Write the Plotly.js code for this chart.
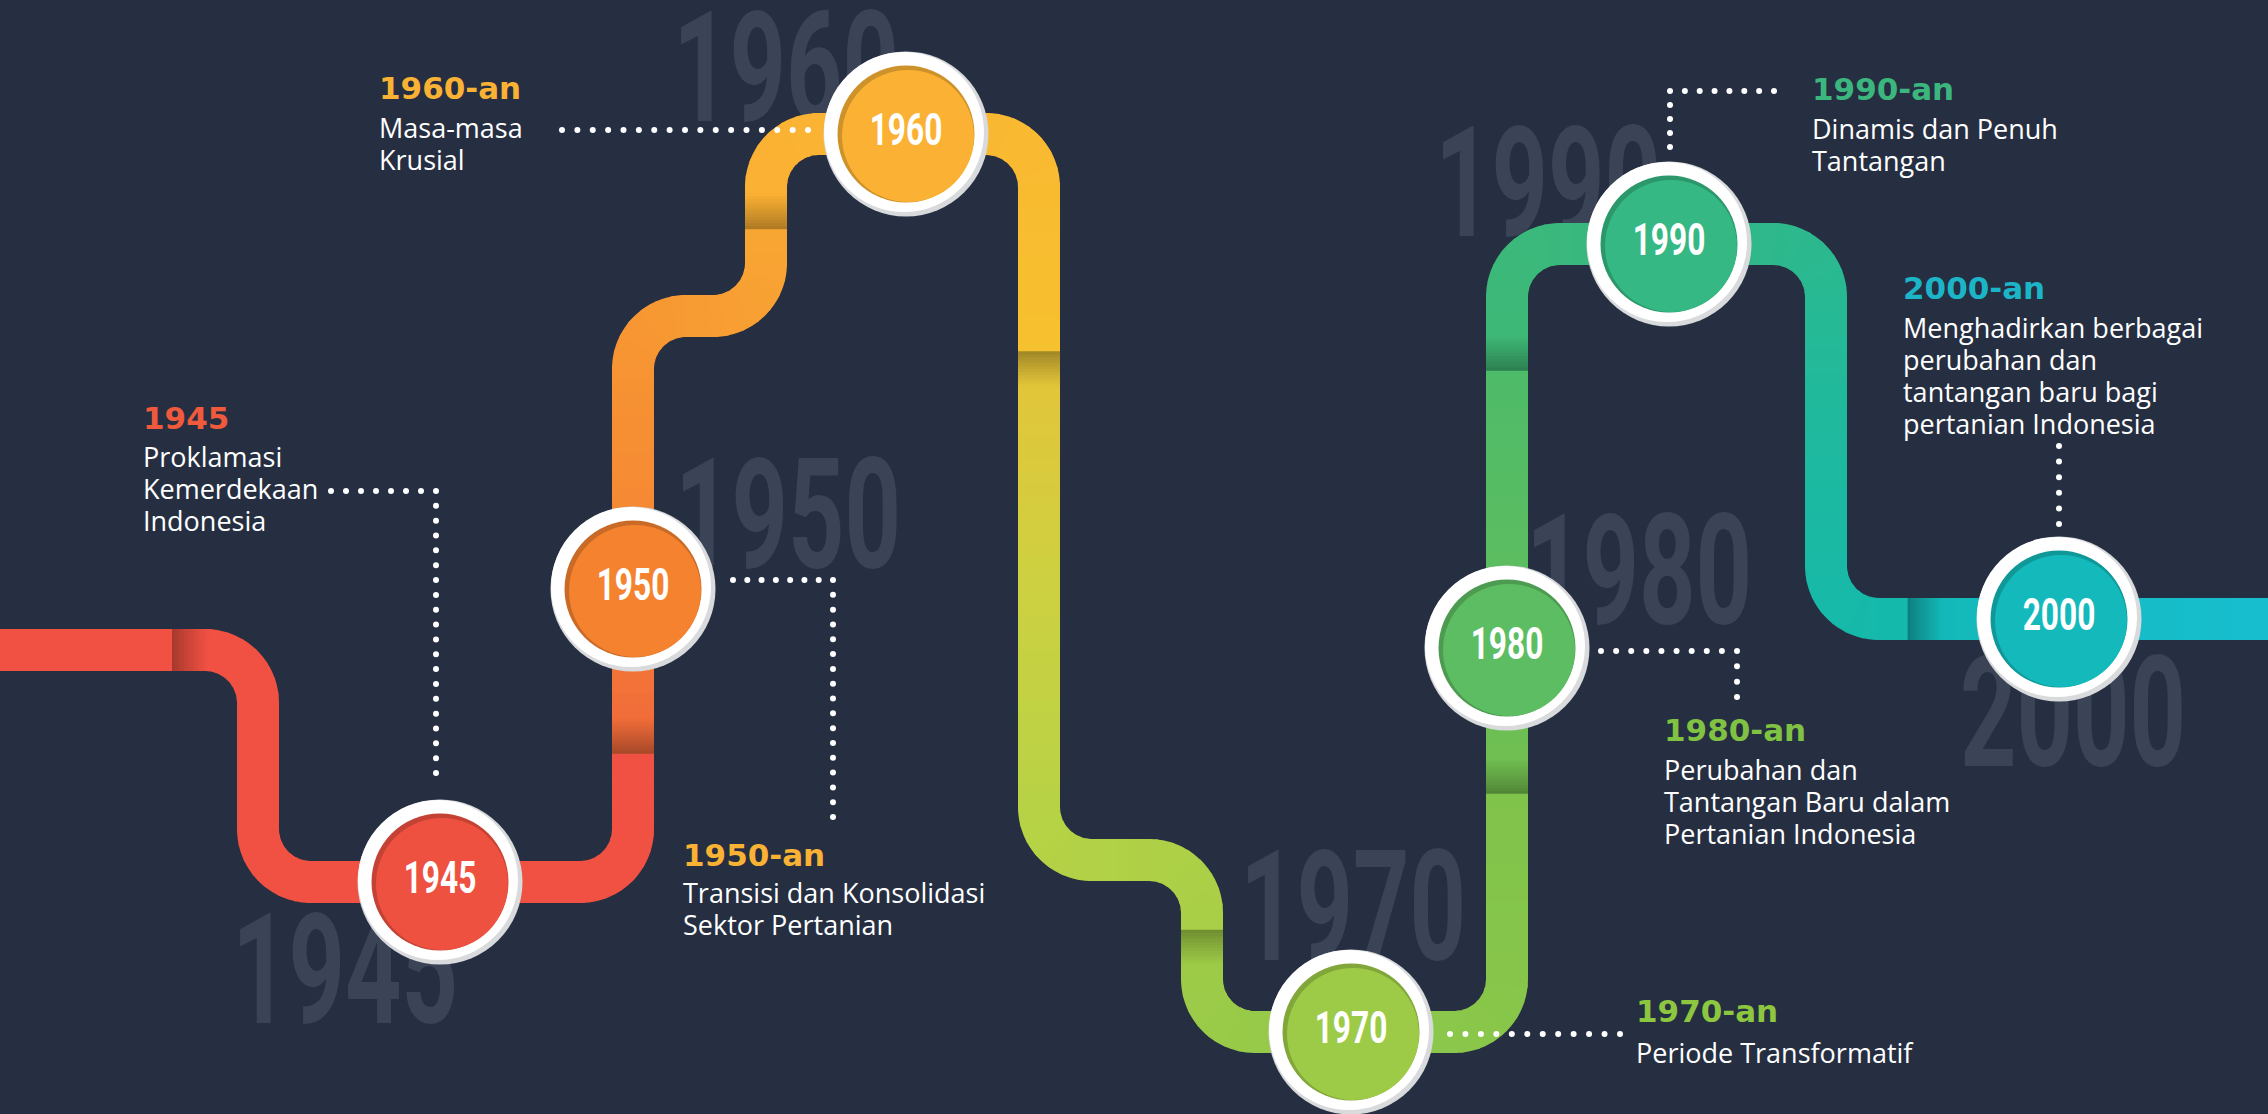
<!DOCTYPE html>
<html><head><meta charset="utf-8">
<script src="https://cdn.plot.ly/plotly-3.0.1.min.js"></script>
<style>
html,body{margin:0;padding:0;background:#262f42;overflow:hidden}
#chart{width:2268px;height:1114px}
/* condensed look for the numeral faces */
#chart .scatterlayer .trace:first-child .textpoint text{transform-box:fill-box;transform-origin:center;transform:scaleX(0.64)}
#chart .scatterlayer .trace:last-child .textpoint text{transform-box:fill-box;transform-origin:center;transform:scaleX(0.72)}
</style>
</head><body><div id="chart"></div>
<script>
// ---------------- data ----------------
const years = ['1945','1950','1960','1970','1980','1990','2000'];
const nodeX = [440, 633, 906, 1351, 1507, 1669, 2059];
const nodeY = [882, 589, 134, 1032, 648, 244, 619];
const nodeColors = ['#ef5140','#f5822f','#fbb234','#9dcb47','#5dbd62','#35b883','#13b9bb'];

const bigYearX = [345, 788, 786, 1353, 1639, 1548, 2073];
const bigYearY = [985, 530, 82, 922, 586, 198, 728];

const headings = ['1945','1950-an','1960-an','1970-an','1980-an','1990-an','2000-an'];
const headingColors = ['#f05a3c','#f9b233','#f9b233','#8dc63f','#80c342','#3bb77e','#1cb5c8'];
const headingX = [141, 681, 377, 1634, 1662, 1810, 1901];
const headingY = [418, 855, 88, 1011, 730, 89, 288];
const bodyLines = [
  ['Proklamasi','Kemerdekaan','Indonesia'],
  ['Transisi dan Konsolidasi','Sektor Pertanian'],
  ['Masa-masa','Krusial'],
  ['Periode Transformatif'],
  ['Perubahan dan','Tantangan Baru dalam','Pertanian Indonesia'],
  ['Dinamis dan Penuh','Tantangan'],
  ['Menghadirkan berbagai','perubahan dan','tantangan baru bagi','pertanian Indonesia']
];
const bodyFirstY = [456, 892, 127, 1052, 769, 128, 327];

// route of the ribbon (corner points)
const routeX = [-20, 258, 258, 633, 633, 766, 766, 1039, 1039, 1202, 1202, 1507, 1507, 1826, 1826, 2300];
const routeY = [650, 650, 882, 882, 316, 316, 134, 134, 860, 860, 1032, 1032, 244, 244, 619, 619];
// fold seams along the ribbon
const seamX = [172, 633, 766, 1039, 1202, 1507, 1507, 1908];
const seamY = [650, 754, 230, 352, 931, 793, 370, 619];
const segmentColors = [
  ['#f05142','#f05142'],
  ['#f05142','#f05142'],
  ['#f0683b','#f58634','#f79533','#f8a633'],
  ['#fbb034','#fab732','#f6c12e'],
  ['#e6c338','#cdd141','#b7d245','#a8cf47'],
  ['#a0cc47','#8bc74a','#80c34b'],
  ['#74c04f','#5ebd5f','#4dbb69'],
  ['#40b874','#35b883','#20b99c','#14b9ac'],
  ['#13b8b6','#15bbc5','#18bfd0']
];

// dotted connectors
const connX = [[331,436,436],[733,833,833],[562,808],[1450,1620],[1601,1737,1737],[1774,1670,1670],[2059,2059]];
const connY = [[491,491,773],[580,580,817],[130,130],[1034,1034],[651,651,697],[91,91,147],[446,524]];

// ---------------- helpers ----------------
function hex(h){h=h.replace('#','');return [parseInt(h.slice(0,2),16),parseInt(h.slice(2,4),16),parseInt(h.slice(4,6),16)];}
function rgb(c){return 'rgb('+c.map(v=>Math.max(0,Math.min(255,Math.round(v)))).join(',')+')';}
function mix(a,b,t){return [a[0]+(b[0]-a[0])*t,a[1]+(b[1]-a[1])*t,a[2]+(b[2]-a[2])*t];}
function stopsAt(stops,t){
  const n=stops.length-1; if(n===0) return hex(stops[0]);
  const p=Math.min(n-1e-9,Math.max(0,t*n)); const k=Math.floor(p);
  return mix(hex(stops[k]),hex(stops[k+1]),p-k);
}
function norm(v){const l=Math.hypot(v[0],v[1]);return [v[0]/l,v[1]/l];}

const R = 53, STEP = 3;
function buildRoute(xs,ys){
  const pts=[[xs[0],ys[0]]];
  for(let i=1;i<xs.length-1;i++){
    const P=[xs[i],ys[i]];
    const d1=norm([xs[i]-xs[i-1],ys[i]-ys[i-1]]);
    const d2=norm([xs[i+1]-xs[i],ys[i+1]-ys[i]]);
    const A=[P[0]-d1[0]*R,P[1]-d1[1]*R];
    const B=[P[0]+d2[0]*R,P[1]+d2[1]*R];
    const C=[A[0]+d2[0]*R,A[1]+d2[1]*R];
    const a0=Math.atan2(A[1]-C[1],A[0]-C[0]);
    const a1=Math.atan2(B[1]-C[1],B[0]-C[0]);
    let da=a1-a0; while(da>Math.PI)da-=2*Math.PI; while(da<-Math.PI)da+=2*Math.PI;
    pts.push(A);
    const n=30;
    for(let k=1;k<=n;k++){const a=a0+da*k/n;pts.push([C[0]+R*Math.cos(a),C[1]+R*Math.sin(a)]);}
  }
  pts.push([xs[xs.length-1],ys[ys.length-1]]);
  const out=[pts[0]]; let carry=0;
  for(let i=1;i<pts.length;i++){
    const a=pts[i-1],b=pts[i]; const L=Math.hypot(b[0]-a[0],b[1]-a[1]);
    let d=STEP-carry;
    while(d<=L){out.push([a[0]+(b[0]-a[0])*d/L,a[1]+(b[1]-a[1])*d/L]); d+=STEP;}
    carry=L-(d-STEP);
  }
  out.push(pts[pts.length-1]);
  return out;
}

const samples = buildRoute(routeX, routeY);
const N = samples.length;
const seamIdx = seamX.map((sx,j)=>{
  let best=0,bd=1e9;
  samples.forEach((p,i)=>{const d=Math.hypot(p[0]-sx,p[1]-seamY[j]); if(d<bd){bd=d;best=i;}});
  return best;
}).sort((a,b)=>a-b);
const bounds=[0,...seamIdx,N-1];

const traces=[];
// big background years (behind everything)
traces.push({type:'scatter',mode:'text',x:bigYearX,y:bigYearY,text:years,textposition:'middle center',
  textfont:{family:'Roboto, sans-serif',size:154,weight:700,color:'#3a4456'},
  hoverinfo:'skip',cliponaxis:false});

// ribbon chunks
const SHADOW=34;
for(let s=0;s<bounds.length-1;s++){
  const s0=bounds[s], s1=bounds[s+1];
  const stops=segmentColors[s];
  let k=s0;
  while(k<s1){
    const dist=(k-s0)*STEP;
    const inShadow = s>0 && dist<SHADOW;
    const len = inShadow?1:4;
    const end=Math.min(k+len+1,N-1);
    const mid=Math.min(k+len/2,N-1);
    let c=stopsAt(stops,(mid-s0)/Math.max(1,(s1-s0)));
    if(inShadow){const f=0.7+0.3*Math.pow(dist/SHADOW,0.9); c=c.map(v=>v*f);}
    const xs=[],ys=[];
    for(let i=k;i<=end;i++){xs.push(samples[i][0]);ys.push(samples[i][1]);}
    traces.push({type:'scatter',mode:'lines',x:xs,y:ys,line:{color:rgb(c),width:42,simplify:false},hoverinfo:'skip'});
    k+=len;
  }
}

// dotted connectors
const dotX=[],dotY=[];
connX.forEach((xs,j)=>{
  const ys=connY[j];
  dotX.push(xs[0]);dotY.push(ys[0]);
  for(let i=1;i<xs.length;i++){
    const L=Math.hypot(xs[i]-xs[i-1],ys[i]-ys[i-1]); const n=Math.max(1,Math.round(L/15));
    for(let k=1;k<=n;k++){dotX.push(xs[i-1]+(xs[i]-xs[i-1])*k/n);dotY.push(ys[i-1]+(ys[i]-ys[i-1])*k/n);}
  }
});
traces.push({type:'scatter',mode:'markers',x:dotX,y:dotY,marker:{size:6,color:'#ffffff',line:{width:0}},hoverinfo:'skip'});

// circles
const shadeHex=(h,f)=>rgb(hex(h).map(v=>v*f));
traces.push({type:'scatter',mode:'markers',x:nodeX,y:nodeY,marker:{size:165,color:'#d9dadc',line:{width:0}},hoverinfo:'skip'});
traces.push({type:'scatter',mode:'markers',x:nodeX.map(v=>v-2),y:nodeY.map(v=>v-2),marker:{size:160,color:'#ffffff',line:{width:0}},hoverinfo:'skip'});
traces.push({type:'scatter',mode:'markers',x:nodeX,y:nodeY,marker:{size:137,color:nodeColors.map(c=>shadeHex(c,0.82)),line:{width:0}},hoverinfo:'skip'});
traces.push({type:'scatter',mode:'markers',x:nodeX.map(v=>v+2),y:nodeY.map(v=>v+2),marker:{size:132,color:nodeColors,line:{width:0}},hoverinfo:'skip'});
traces.push({type:'scatter',mode:'text',x:nodeX,y:nodeY,text:years,textposition:'middle center',
  textfont:{family:'Roboto, sans-serif',size:44,weight:700,color:'#ffffff'},hoverinfo:'skip'});

// annotations
const annotations=[];
headings.forEach((h,i)=>{
  annotations.push({x:headingX[i],y:headingY[i],xref:'x',yref:'y',text:'<b>'+h+'</b>',showarrow:false,xanchor:'left',yanchor:'middle',
    font:{family:'"DejaVu Sans",sans-serif',size:31,color:headingColors[i]}});
  bodyLines[i].forEach((t,k)=>{
    annotations.push({x:headingX[i],y:bodyFirstY[i]+k*32,xref:'x',yref:'y',text:t,showarrow:false,xanchor:'left',yanchor:'middle',
      font:{family:'"Open Sans",sans-serif',size:27,weight:500,color:'#ffffff'}});
  });
});

const layout={width:2268,height:1114,margin:{l:0,r:0,t:0,b:0,pad:0},paper_bgcolor:'#262f42',plot_bgcolor:'#262f42',
  showlegend:false,hovermode:false,
  xaxis:{range:[0,2268],visible:false,fixedrange:true},
  yaxis:{range:[1114,0],visible:false,fixedrange:true},
  annotations:annotations};
Plotly.newPlot('chart',traces,layout,{displayModeBar:false,staticPlot:true});
</script></body></html>
